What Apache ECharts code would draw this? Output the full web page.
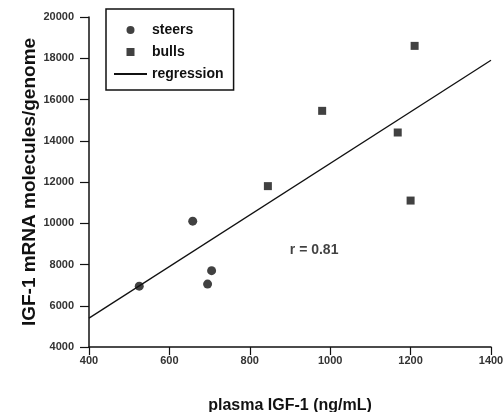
<!DOCTYPE html>
<html>
<head>
<meta charset="utf-8">
<script src="https://cdn.jsdelivr.net/npm/echarts@6/dist/echarts.min.js"></script>
<style>
  html, body { margin: 0; padding: 0; background: #fff; }
  #chart { width: 504px; height: 412px; }
</style>
</head>
<body>
<div id="chart"></div>
<script>
// values
const steers = [[525, 6950], [658, 10100], [705, 7700], [695, 7050]];
const bulls = [[845, 11800], [980, 15450], [1168, 14400], [1210, 18600], [1200, 11100]];
const regression = [[400, 5400], [1400, 17900]];
const rLabel = [[960, 8700]];
const xTicks = { min: 400, max: 1400, step: 200 };
const yTicks = { min: 4000, max: 20000, step: 2000 };

const font = 'Liberation Sans, Arial, sans-serif';
const ink = '#111';

let option = {
  backgroundColor: '#fff',
  animation: false,
  grid: { left: 89, right: 13, top: 17, bottom: 65, outerBoundsMode: 'none', containLabel: false },
  legend: {
    left: 106,
    top: 9,
    orient: 'vertical',
    data: [
      { name: 'steers', icon: 'circle' },
      { name: 'bulls', icon: 'path://M0,0h10v10h-10z' },
      { name: 'regression', itemStyle: { opacity: 0 } }
    ],
    itemWidth: 33,
    itemHeight: 8,
    itemGap: 8,
    padding: [14, 10, 9, 7],
    borderColor: ink,
    borderWidth: 1.5,
    borderRadius: 0,
    textStyle: { fontFamily: font, fontSize: 14, fontWeight: 'bold', color: ink }
  },
  xAxis: {
    type: 'value',
    min: xTicks.min,
    max: xTicks.max,
    interval: xTicks.step,
    name: 'plasma IGF-1 (ng/mL)',
    nameLocation: 'middle',
    nameGap: 51,
    nameMoveOverlap: false,
    nameTextStyle: { fontFamily: font, fontSize: 16, fontWeight: 'bold', color: ink },
    splitLine: { show: false },
    axisLine: { lineStyle: { color: ink, width: 1.5 } },
    axisTick: { length: 8, lineStyle: { color: ink, width: 1.2 } },
    axisLabel: { fontFamily: font, fontSize: 11, fontWeight: 'bold', color: '#333', margin: 8, formatter: v => String(v) }
  },
  yAxis: {
    type: 'value',
    min: yTicks.min,
    max: yTicks.max,
    interval: yTicks.step,
    name: 'IGF-1 mRNA molecules/genome',
    nameLocation: 'middle',
    nameGap: 50,
    nameMoveOverlap: false,
    nameTextStyle: { fontFamily: font, fontSize: 19, fontWeight: 'bold', color: ink },
    splitLine: { show: false },
    axisLine: { show: true, lineStyle: { color: ink, width: 1.5 } },
    axisTick: { show: true, length: 9, lineStyle: { color: ink, width: 1.2 } },
    axisLabel: { fontFamily: font, fontSize: 11, fontWeight: 'bold', color: '#333', margin: 15, formatter: v => String(v) }
  },
  series: [
    {
      name: 'steers',
      type: 'scatter',
      symbol: 'circle',
      symbolSize: 9,
      itemStyle: { color: ink },
      data: steers
    },
    {
      name: 'bulls',
      type: 'scatter',
      symbol: 'rect',
      symbolSize: 8,
      itemStyle: { color: ink },
      data: bulls
    },
    {
      name: 'regression',
      type: 'line',
      symbol: 'none',
      lineStyle: { color: ink, width: 1.3 },
      itemStyle: { color: ink },
      data: regression
    },
    {
      name: 'r',
      type: 'scatter',
      symbolSize: 0,
      silent: true,
      label: {
        show: true,
        position: 'inside',
        formatter: 'r = 0.81',
        fontFamily: font,
        fontSize: 14,
        fontWeight: 'bold',
        color: ink
      },
      data: rLabel
    }
  ]
};

let mychart = echarts.init(document.getElementById('chart'));
mychart.setOption(option);
</script>
</body>
</html>
